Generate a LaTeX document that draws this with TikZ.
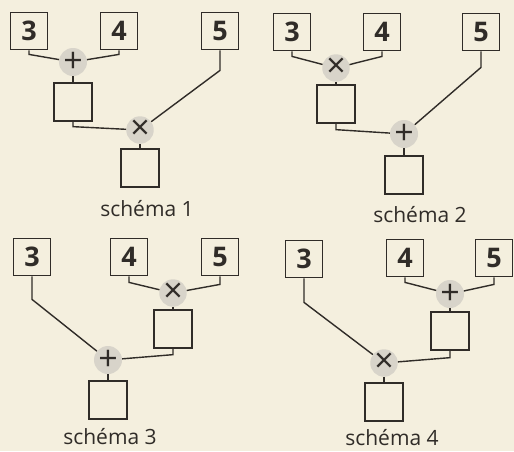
\documentclass[tikz,border=0pt]{standalone}
\usepackage{fontspec}
\setmainfont{Open Sans}
\usepackage{xcolor}
\usepackage{tikz}
\definecolor{paper}{RGB}{244,239,222}
\definecolor{ink}{RGB}{48,44,40}
\definecolor{glow}{RGB}{216,212,202}
\begin{document}
\begin{tikzpicture}[x=1pt, y=-1pt,
  num/.style={draw=ink, line width=1.8pt, fill=paper, minimum size=37pt, inner sep=0pt,
              font=\fontsize{27}{27}\selectfont\bfseries, text=ink},
  res/.style={draw=ink, line width=1.3pt, fill=paper, minimum size=38pt, inner sep=0pt},
  op/.style={circle, fill=glow, minimum size=27pt, inner sep=0pt,
             font=\fontsize{34}{34}\selectfont, text=ink},
  wire/.style={draw=ink, line width=1.4pt},
  schemalabel/.style={font=\fontsize{21}{21}\selectfont, text=ink}]
  \fill[paper] (0,0) rectangle (514,451);
  \useasboundingbox (0,0) rectangle (514,451);
  % schema 1 : (3+4) x 5
  \node[num] (a3) at (29,31)  {3};
  \node[num] (a4) at (119,31) {4};
  \node[num] (a5) at (220,31) {5};
  \node[op]  (aplus) at (73,62) {+};
  \node[res] (ar1) at (73,102) {};
  \node[op]  (atimes) at (140,130) {×};
  \node[res] (ar2) at (140,168) {};
  \draw[wire] (a3.south) -- ++(0,4) -- (aplus);
  \draw[wire] (a4.south) -- ++(0,4) -- (aplus);
  \draw[wire] (aplus) -- (ar1);
  \draw[wire] (ar1.south) -- ++(0,5) -- (atimes);
  \draw[wire] (a5.south) -- ++(0,20) -- (atimes);
  \draw[wire] (atimes) -- (ar2);
  \node[schemalabel] (alab) at (147,209) {schéma 1};
  % schema 2 : (3 x 4) + 5
  \node[num] (b3) at (292,32) {3};
  \node[num] (b4) at (382,32) {4};
  \node[num] (b5) at (481,32) {5};
  \node[op]  (btimes) at (336,68) {×};
  \node[res] (br1) at (336,104) {};
  \node[op]  (bplus) at (404,134) {+};
  \node[res] (br2) at (404,175) {};
  \draw[wire] (b3.south) -- ++(0,5) -- (btimes);
  \draw[wire] (b4.south) -- ++(0,5) -- (btimes);
  \draw[wire] (btimes) -- (br1);
  \draw[wire] (br1.south) -- ++(0,6) -- (bplus);
  \draw[wire] (b5.south) -- ++(0,16) -- (bplus);
  \draw[wire] (bplus) -- (br2);
  \node[schemalabel] (blab) at (420,215) {schéma 2};
  % schema 3 : 3 + (4 x 5)
  \node[num] (c3) at (32,257)  {3};
  \node[num] (c4) at (129,257) {4};
  \node[num] (c5) at (220,257) {5};
  \node[op]  (ctimes) at (173,293) {×};
  \node[res] (cr1) at (173,329) {};
  \node[op]  (cplus) at (108,360) {+};
  \node[res] (cr2) at (108,400) {};
  \draw[wire] (c4.south) -- ++(0,6) -- (ctimes);
  \draw[wire] (c5.south) -- ++(0,8) -- (ctimes);
  \draw[wire] (ctimes) -- (cr1);
  \draw[wire] (cr1.south) -- ++(0,6) -- (cplus);
  \draw[wire] (c3.south) -- ++(0,23) -- (cplus);
  \draw[wire] (cplus) -- (cr2);
  \node[schemalabel] (clab) at (110,437) {schéma 3};
  % schema 4 : 3 x (4 + 5)
  \node[num] (d3) at (304,259) {3};
  \node[num] (d4) at (405,258) {4};
  \node[num] (d5) at (494,258) {5};
  \node[op]  (dplus) at (450,294) {+};
  \node[res] (dr1) at (450,331) {};
  \node[op]  (dtimes) at (384,363) {×};
  \node[res] (dr2) at (384,402) {};
  \draw[wire] (d4.south) -- ++(0,5) -- (dplus);
  \draw[wire] (d5.south) -- ++(0,7) -- (dplus);
  \draw[wire] (dplus) -- (dr1);
  \draw[wire] (dr1.south) -- ++(0,7) -- (dtimes);
  \draw[wire] (d3.south) -- ++(0,24) -- (dtimes);
  \draw[wire] (dtimes) -- (dr2);
  \node[schemalabel] (dlab) at (392,438) {schéma 4};
\end{tikzpicture}
\end{document}
